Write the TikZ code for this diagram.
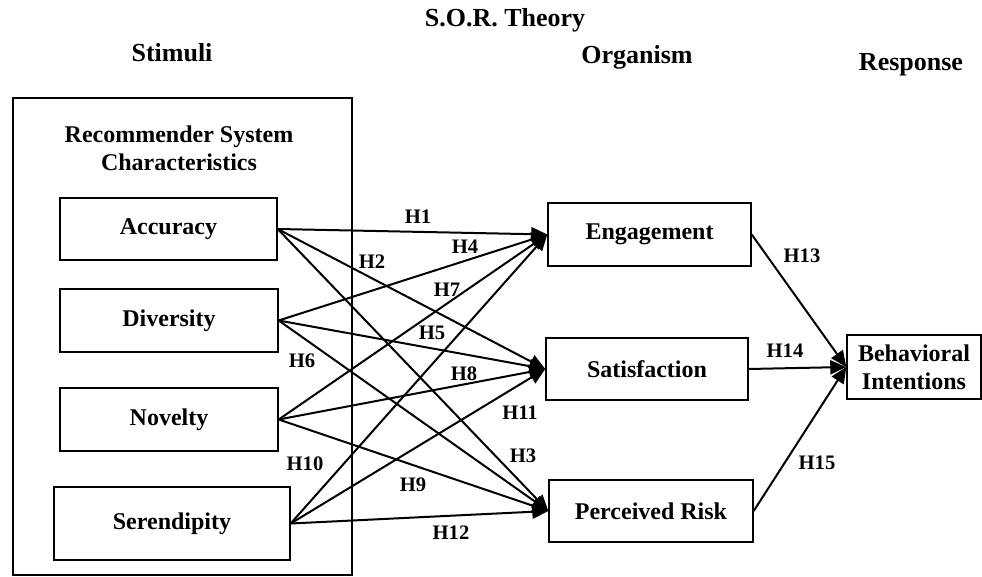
\documentclass[tikz,border=0pt]{standalone}
\usepackage{fontspec}
\setmainfont{Liberation Serif}
\usetikzlibrary{arrows.meta}

\tikzset{
  factor/.style={draw,line width=0.7pt,align=center,inner sep=0pt,
    font=\bfseries\fontsize{12}{14}\selectfont},
  heading/.style={font=\bfseries\fontsize{13}{15}\selectfont},
  hyp/.style={inner sep=0pt,font=\bfseries\fontsize{10.3}{12}\selectfont},
  link/.style={-{Triangle[length=8pt,width=7pt]},line width=1pt},
}

\begin{document}
\begin{tikzpicture}[x=0.5pt,y=-0.5pt]
  \useasboundingbox (0,0) rectangle (982,577);
  % headings
  \node[heading] (sor) at (505,20) {S.O.R. Theory};
  \node[heading] (stim) at (172,53) {Stimuli};
  \node[heading] (org) at (637,57) {Organism};
  \node[heading] (resp) at (911,65) {Response};
  % stimuli
  \node[draw,line width=0.55pt,minimum width=169.5pt,minimum height=238.5pt] (rsc) at (182.5,336.5) {};
  \node[align=center,font=\bfseries\fontsize{12}{14}\selectfont] (rsctitle) at (179,148) {Recommender System\\Characteristics};
  \node[factor,minimum width=108.5pt,minimum height=31pt] (acc) at (168.5,229) {Accuracy};
  \node[factor,minimum width=109pt,minimum height=31.5pt] (div) at (169,320.5) {Diversity};
  \node[factor,minimum width=109pt,minimum height=31.5pt] (nov) at (169,419.5) {Novelty};
  \node[factor,minimum width=118pt,minimum height=36.5pt] (ser) at (172,523.5) {Serendipity};
  % organism
  \node[factor,minimum width=101.5pt,minimum height=31.5pt] (eng) at (649.5,234.5) {Engagement};
  \node[factor,minimum width=101pt,minimum height=31pt] (sat) at (647,369) {Satisfaction};
  \node[factor,minimum width=102pt,minimum height=31pt] (risk) at (651,511) {Perceived Risk};
  % response
  \node[factor,minimum width=67pt,minimum height=32pt] (bi) at (914,367) {Behavioral\\Intentions};
  % hypotheses
  \draw[link] (acc.east) -- (eng.west);
  \draw[link] (acc.east) -- (sat.west);
  \draw[link] (acc.east) -- (risk.west);
  \draw[link] (div.east) -- (eng.west);
  \draw[link] (div.east) -- (sat.west);
  \draw[link] (div.east) -- (risk.west);
  \draw[link] (nov.east) -- (eng.west);
  \draw[link] (nov.east) -- (sat.west);
  \draw[link] (nov.east) -- (risk.west);
  \draw[link] (ser.east) -- (eng.west);
  \draw[link] (ser.east) -- (sat.west);
  \draw[link] (ser.east) -- (risk.west);
  \draw[link] (eng.east) -- (bi.west);
  \draw[link] (sat.east) -- (bi.west);
  \draw[link] (risk.east) -- (bi.west);
  \node[hyp] (h1) at (418,217) {H1};
  \node[hyp] (h2) at (372,262) {H2};
  \node[hyp] (h3) at (523,456) {H3};
  \node[hyp] (h4) at (465,247) {H4};
  \node[hyp] (h5) at (432,333) {H5};
  \node[hyp] (h6) at (302,361) {H6};
  \node[hyp] (h7) at (447,290) {H7};
  \node[hyp] (h8) at (464,374) {H8};
  \node[hyp] (h9) at (413,485) {H9};
  \node[hyp] (h10) at (305,464) {H10};
  \node[hyp] (h11) at (520,413) {H11};
  \node[hyp] (h12) at (451,533) {H12};
  \node[hyp] (h13) at (802,256) {H13};
  \node[hyp] (h14) at (785,351) {H14};
  \node[hyp] (h15) at (817,463) {H15};
\end{tikzpicture}
\end{document}
